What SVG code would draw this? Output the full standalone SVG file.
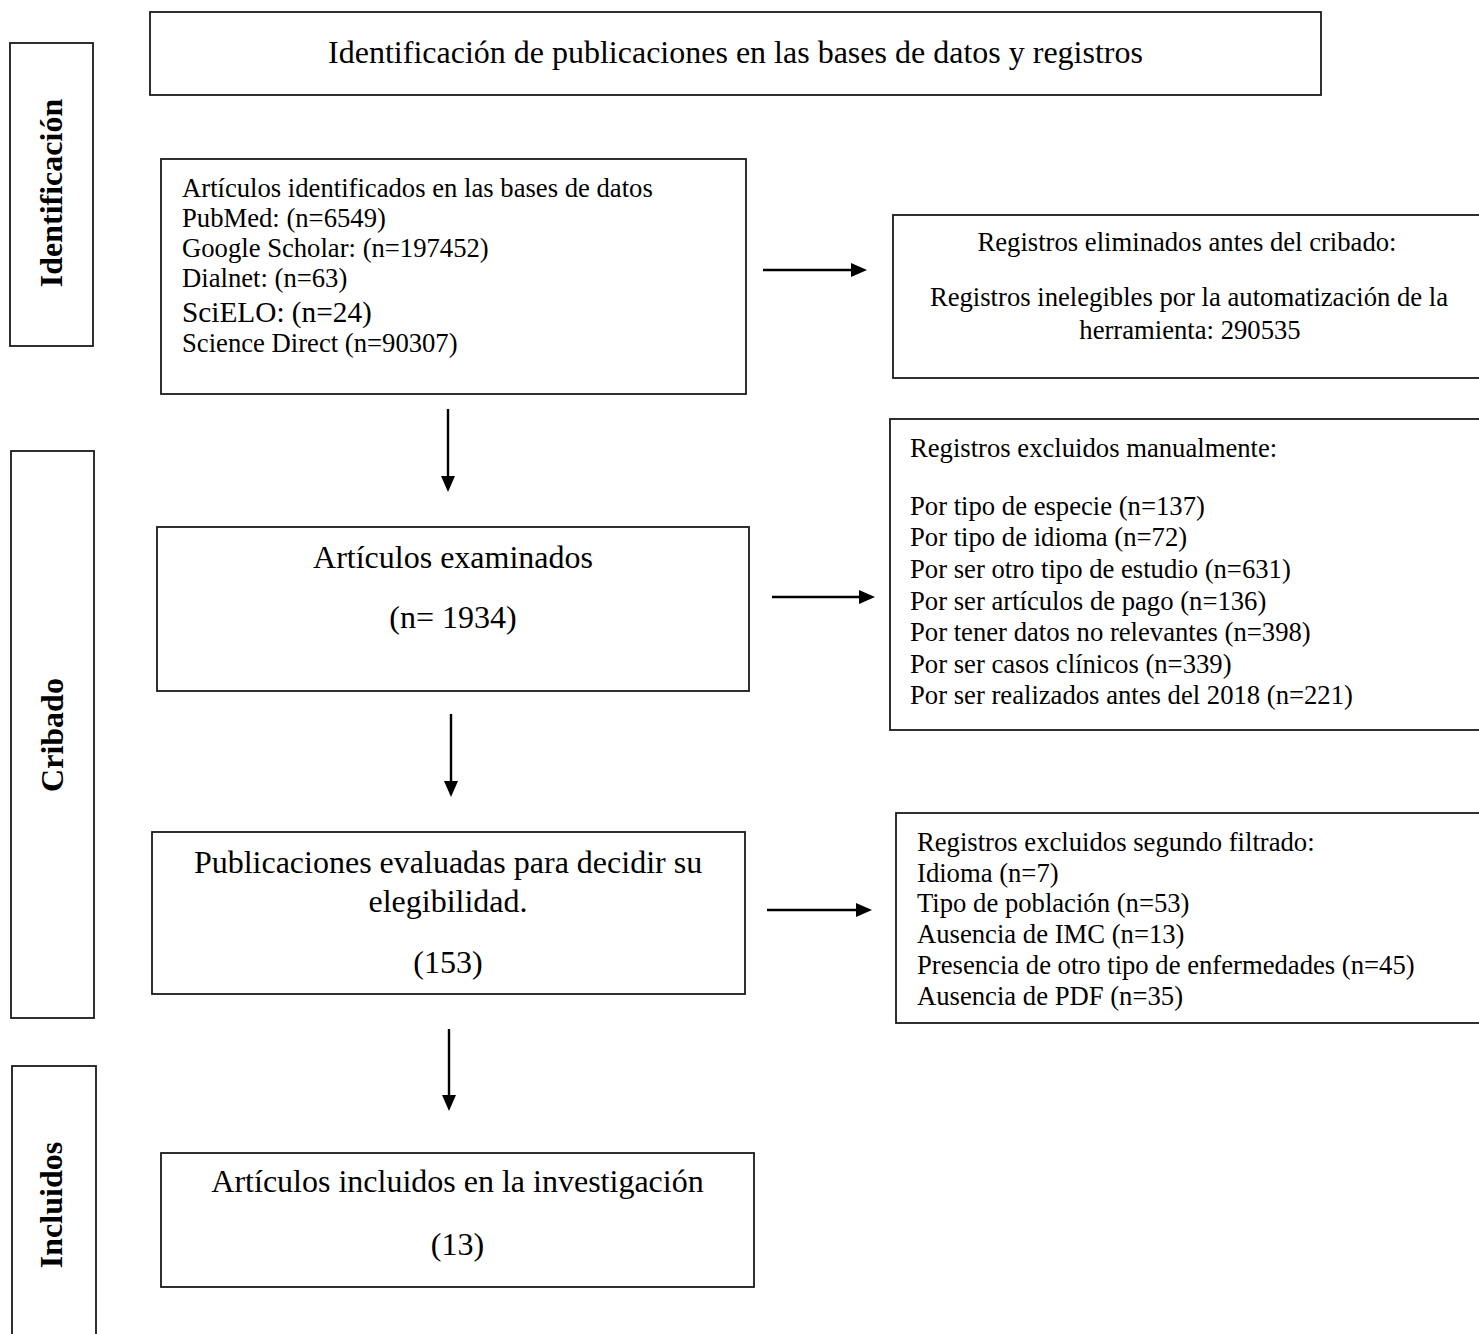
<svg xmlns="http://www.w3.org/2000/svg" width="1479" height="1334" viewBox="0 0 1479 1334">
<style>
.box{fill:#fff;stroke:#1a1a1a;stroke-width:1.8}
.t{font-family:"Liberation Serif","Times New Roman",serif;fill:#000}
.s20{font-size:26.67px}
.s24{font-size:32px}
.s22{font-size:29.3px}
.side{font-family:"Liberation Serif","Times New Roman",serif;font-weight:bold;font-size:32px;fill:#000}
.mid{text-anchor:middle}
.conn{stroke:#000;stroke-width:2.4;fill:none}
</style>
<defs>
<marker id="ah" markerUnits="userSpaceOnUse" viewBox="0 0 16 14" refX="2" refY="7" markerWidth="16" markerHeight="14" orient="auto">
<path d="M0,0 L16,7 L0,14 z" fill="#000"/>
</marker>
</defs>
<rect width="1479" height="1334" fill="#fff"/>

<g id="title">
<rect class="box" x="150" y="12" width="1171" height="83"/>
<text class="t s24 mid" x="735.5" y="63">Identificación de publicaciones en las bases de datos y registros</text>
</g>

<g id="side-identificacion">
<rect class="box" x="10" y="43" width="83" height="303"/>
<text class="side mid" transform="translate(62,193) rotate(-90)">Identificación</text>
</g>
<g id="side-cribado">
<rect class="box" x="11" y="451" width="83" height="567"/>
<text class="side mid" transform="translate(63,735) rotate(-90)">Cribado</text>
</g>
<g id="side-incluidos">
<rect class="box" x="12" y="1066" width="84" height="280"/>
<text class="side mid" transform="translate(62,1205) rotate(-90)">Incluidos</text>
</g>

<g id="identificados">
<rect class="box" x="161" y="159" width="585" height="235"/>
<text class="t s20" x="182" y="197">Artículos identificados en las bases de datos</text>
<text class="t s20" x="182" y="227">PubMed: (n=6549)</text>
<text class="t s20" x="182" y="257">Google Scholar: (n=197452)</text>
<text class="t s20" x="182" y="287">Dialnet: (n=63)</text>
<text class="t s22" x="182" y="322">SciELO: (n=24)</text>
<text class="t s20" x="182" y="352">Science Direct (n=90307)</text>
</g>

<g id="eliminados">
<rect class="box" x="893" y="215" width="600" height="163"/>
<text class="t s20 mid" x="1187" y="251">Registros eliminados antes del cribado:</text>
<text class="t s20 mid" x="1189" y="306">Registros inelegibles por la automatización de la</text>
<text class="t s20 mid" x="1190" y="339">herramienta: 290535</text>
</g>

<g id="examinados">
<rect class="box" x="157" y="527" width="592" height="164"/>
<text class="t s24 mid" x="453" y="568">Artículos examinados</text>
<text class="t s24 mid" x="453" y="628">(n= 1934)</text>
</g>

<g id="excluidos-manual">
<rect class="box" x="890" y="419" width="603" height="311"/>
<text class="t s20" x="910" y="457">Registros excluidos manualmente:</text>
<text class="t s20" x="910" y="515">Por tipo de especie (n=137)</text>
<text class="t s20" x="910" y="546">Por tipo de idioma (n=72)</text>
<text class="t s20" x="910" y="578">Por ser otro tipo de estudio (n=631)</text>
<text class="t s20" x="910" y="610">Por ser artículos de pago (n=136)</text>
<text class="t s20" x="910" y="641">Por tener datos no relevantes (n=398)</text>
<text class="t s20" x="910" y="673">Por ser casos clínicos (n=339)</text>
<text class="t s20" x="910" y="704">Por ser realizados antes del 2018 (n=221)</text>
</g>

<g id="evaluadas">
<rect class="box" x="152" y="832" width="593" height="162"/>
<text class="t s24 mid" x="448" y="873">Publicaciones evaluadas para decidir su</text>
<text class="t s24 mid" x="448" y="912">elegibilidad.</text>
<text class="t s24 mid" x="448" y="973">(153)</text>
</g>

<g id="excluidos-filtrado">
<rect class="box" x="896" y="813" width="597" height="210"/>
<text class="t s20" x="917" y="851">Registros excluidos segundo filtrado:</text>
<text class="t s20" x="917" y="882">Idioma (n=7)</text>
<text class="t s20" x="917" y="912">Tipo de población (n=53)</text>
<text class="t s20" x="917" y="943">Ausencia de IMC (n=13)</text>
<text class="t s20" x="917" y="974">Presencia de otro tipo de enfermedades (n=45)</text>
<text class="t s20" x="917" y="1005">Ausencia de PDF (n=35)</text>
</g>

<g id="incluidos">
<rect class="box" x="161" y="1153" width="593" height="134"/>
<text class="t s24 mid" x="457.5" y="1192">Artículos incluidos en la investigación</text>
<text class="t s24 mid" x="457.5" y="1255">(13)</text>
</g>

<g id="connectors">
<line class="conn" x1="763" y1="270" x2="853" y2="270" marker-end="url(#ah)"/>
<line class="conn" x1="772" y1="597" x2="861" y2="597" marker-end="url(#ah)"/>
<line class="conn" x1="767" y1="910" x2="858" y2="910" marker-end="url(#ah)"/>
<line class="conn" x1="448" y1="409" x2="448" y2="478" marker-end="url(#ah)"/>
<line class="conn" x1="451" y1="714" x2="451" y2="783" marker-end="url(#ah)"/>
<line class="conn" x1="449" y1="1029" x2="449" y2="1097" marker-end="url(#ah)"/>
</g>
</svg>
